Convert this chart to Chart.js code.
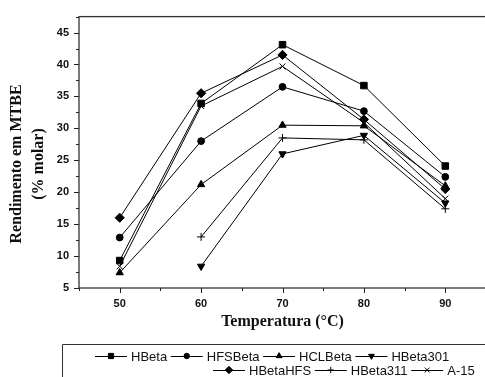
<!DOCTYPE html>
<html>
<head>
<meta charset="utf-8">
<script src="https://cdn.jsdelivr.net/npm/chart.js@4.4.1/dist/chart.umd.min.js"></script>
<style>
  html, body { margin: 0; padding: 0; background: #fff; overflow: hidden; }
  #wrap { position: relative; width: 490px; height: 377px; }
</style>
</head>
<body>
<div id="wrap"><canvas id="chart" width="490" height="377"></canvas></div>
<script>
// Temperatures (x) and yields (% molar)
const temps = [50, 60, 70, 80, 90];
const hBeta = [9.3, 33.9, 43.1, 36.7, 24.1];
const hfsBeta = [12.9, 28.0, 36.5, 32.7, 22.4];
const hclBeta = [7.4, 21.2, 30.5, 30.4, 21.0];
const hBeta301 = [null, 8.4, 26.0, 28.9, 18.3];
const hBetaHFS = [16.0, 35.5, 41.5, 31.4, 20.5];
const hBeta311 = [null, 13.0, 28.5, 28.2, 17.4];
const a15 = [8.4, 33.5, 39.7, 30.9, 19.0];

// Tick labels
const xTicks = [50, 60, 70, 80, 90];
const yTicks = [5, 10, 15, 20, 25, 30, 35, 40, 45];

function toPoints(vals) {
    return temps.map((t, i) => ({ x: t, y: vals[i] }));
}

function series(label, vals, style, radius, rotation) {
    return {
        label: label,
        data: toPoints(vals),
        borderColor: '#000',
        backgroundColor: '#000',
        borderWidth: 1,
        pointStyle: style,
        pointRadius: radius,
        pointRotation: rotation || 0,
        pointBackgroundColor: '#000',
        pointBorderColor: '#000',
        pointBorderWidth: 1,
        tension: 0,
        fill: false
    };
}

// Legend layout: two rows, each with its own start position
const legendRows = [
    { x: 95, y: 356, items: [0, 1, 2, 3] },
    { x: 213, y: 370, items: [4, 5, 6] }
];

const decorPlugin = {
    id: 'decor',
    beforeDatasetsDraw(chart) {
        const ctx = chart.ctx;
        const a = chart.chartArea;
        const xs = chart.scales.x;
        const ys = chart.scales.y;
        ctx.save();
        // plot frame
        ctx.strokeStyle = '#333';
        ctx.lineWidth = 1.3;
        ctx.strokeRect(a.left, a.top, a.right - a.left, a.bottom - a.top);
        // ticks, pointing outward
        ctx.lineWidth = 1;
        ctx.strokeStyle = '#222';
        ctx.beginPath();
        for (let v = 5; v <= 47.5; v += 2.5) {
            const y = Math.round(ys.getPixelForValue(v)) + 0.5;
            const len = v % 5 === 0 ? 5 : 3;
            ctx.moveTo(a.left - len, y);
            ctx.lineTo(a.left, y);
        }
        for (let v = 45; v <= 95; v += 5) {
            const x = Math.round(xs.getPixelForValue(v)) + 0.5;
            const len = v % 10 === 0 ? 5 : 3;
            ctx.moveTo(x, a.bottom);
            ctx.lineTo(x, a.bottom + len);
        }
        ctx.stroke();
        ctx.restore();
    },
    afterDraw(chart) {
        const ctx = chart.ctx;
        const a = chart.chartArea;
        ctx.save();
        ctx.fillStyle = '#111';
        // y axis title
        ctx.font = 'bold 16px "Liberation Serif", "Times New Roman", serif';
        ctx.textAlign = 'center';
        ctx.textBaseline = 'middle';
        ctx.save();
        ctx.translate(17, 164);
        ctx.rotate(-Math.PI / 2);
        ctx.fillText('Rendimento em MTBE', 0, 0);
        ctx.restore();
        ctx.save();
        ctx.translate(39, 164);
        ctx.rotate(-Math.PI / 2);
        ctx.fillText('(% molar)', 0, 0);
        ctx.restore();
        // x axis title
        ctx.fillText('Temperatura (°C)', (a.left + a.right) / 2, 322);

        // legend box
        ctx.strokeStyle = '#333';
        ctx.lineWidth = 1;
        ctx.beginPath();
        ctx.moveTo(62.5, 400);
        ctx.lineTo(62.5, 344.5);
        ctx.lineTo(500, 344.5);
        ctx.stroke();

        // legend entries
        ctx.font = '13px "Liberation Sans", Arial, sans-serif';
        ctx.textAlign = 'left';
        ctx.textBaseline = 'middle';
        const sets = chart.data.datasets;
        legendRows.forEach(row => {
            let x = row.x;
            row.items.forEach(i => {
                const ds = sets[i];
                ctx.strokeStyle = '#000';
                ctx.lineWidth = 1;
                ctx.beginPath();
                ctx.moveTo(x, row.y + 0.5);
                ctx.lineTo(x + 32, row.y + 0.5);
                ctx.stroke();
                ctx.fillStyle = '#000';
                Chart.helpers.drawPoint(ctx, {
                    pointStyle: ds.pointStyle,
                    rotation: ds.pointRotation,
                    borderWidth: 1,
                    radius: ds.pointRadius * 0.8
                }, x + 16, row.y);
                ctx.fillStyle = '#111';
                ctx.fillText(ds.label, x + 36, row.y + 1);
                x += 36 + ctx.measureText(ds.label + ' ').width;
            });
        });
        ctx.restore();
    }
};

new Chart(document.getElementById('chart'), {
    type: 'line',
    data: {
        datasets: [
            series('HBeta', hBeta, 'rect', 4.6),
            series('HFSBeta', hfsBeta, 'circle', 3.4),
            series('HCLBeta', hclBeta, 'triangle', 4.2),
            series('HBeta301', hBeta301, 'triangle', 4.2, 180),
            series('HBetaHFS', hBetaHFS, 'rectRot', 4.6),
            series('HBeta311', hBeta311, 'cross', 4),
            series('A-15', a15, 'crossRot', 4.2)
        ]
    },
    options: {
        responsive: false,
        animation: false,
        layout: {
            autoPadding: false,
            padding: { top: 13, right: 4, bottom: 49, left: 0 }
        },
        plugins: {
            legend: { display: false },
            tooltip: { enabled: false }
        },
        scales: {
            x: {
                type: 'linear',
                min: 45,
                max: 95,
                afterFit(scale) { scale.height = 40; },
                afterBuildTicks(scale) { scale.ticks = xTicks.map(v => ({ value: v })); },
                grid: { display: false, drawTicks: false },
                border: { display: false },
                ticks: {
                    padding: 9,
                    color: '#111',
                    font: { family: '"Liberation Sans", Arial, sans-serif', size: 11, weight: 'bold' }
                }
            },
            y: {
                min: 5,
                max: 47.5,
                afterFit(scale) { scale.width = 79; },
                afterBuildTicks(scale) { scale.ticks = yTicks.map(v => ({ value: v })); },
                grid: { display: false, drawTicks: false },
                border: { display: false },
                ticks: {
                    padding: 10,
                    color: '#111',
                    font: { family: '"Liberation Sans", Arial, sans-serif', size: 11, weight: 'bold' }
                }
            }
        }
    },
    plugins: [decorPlugin]
});
</script>
</body>
</html>
